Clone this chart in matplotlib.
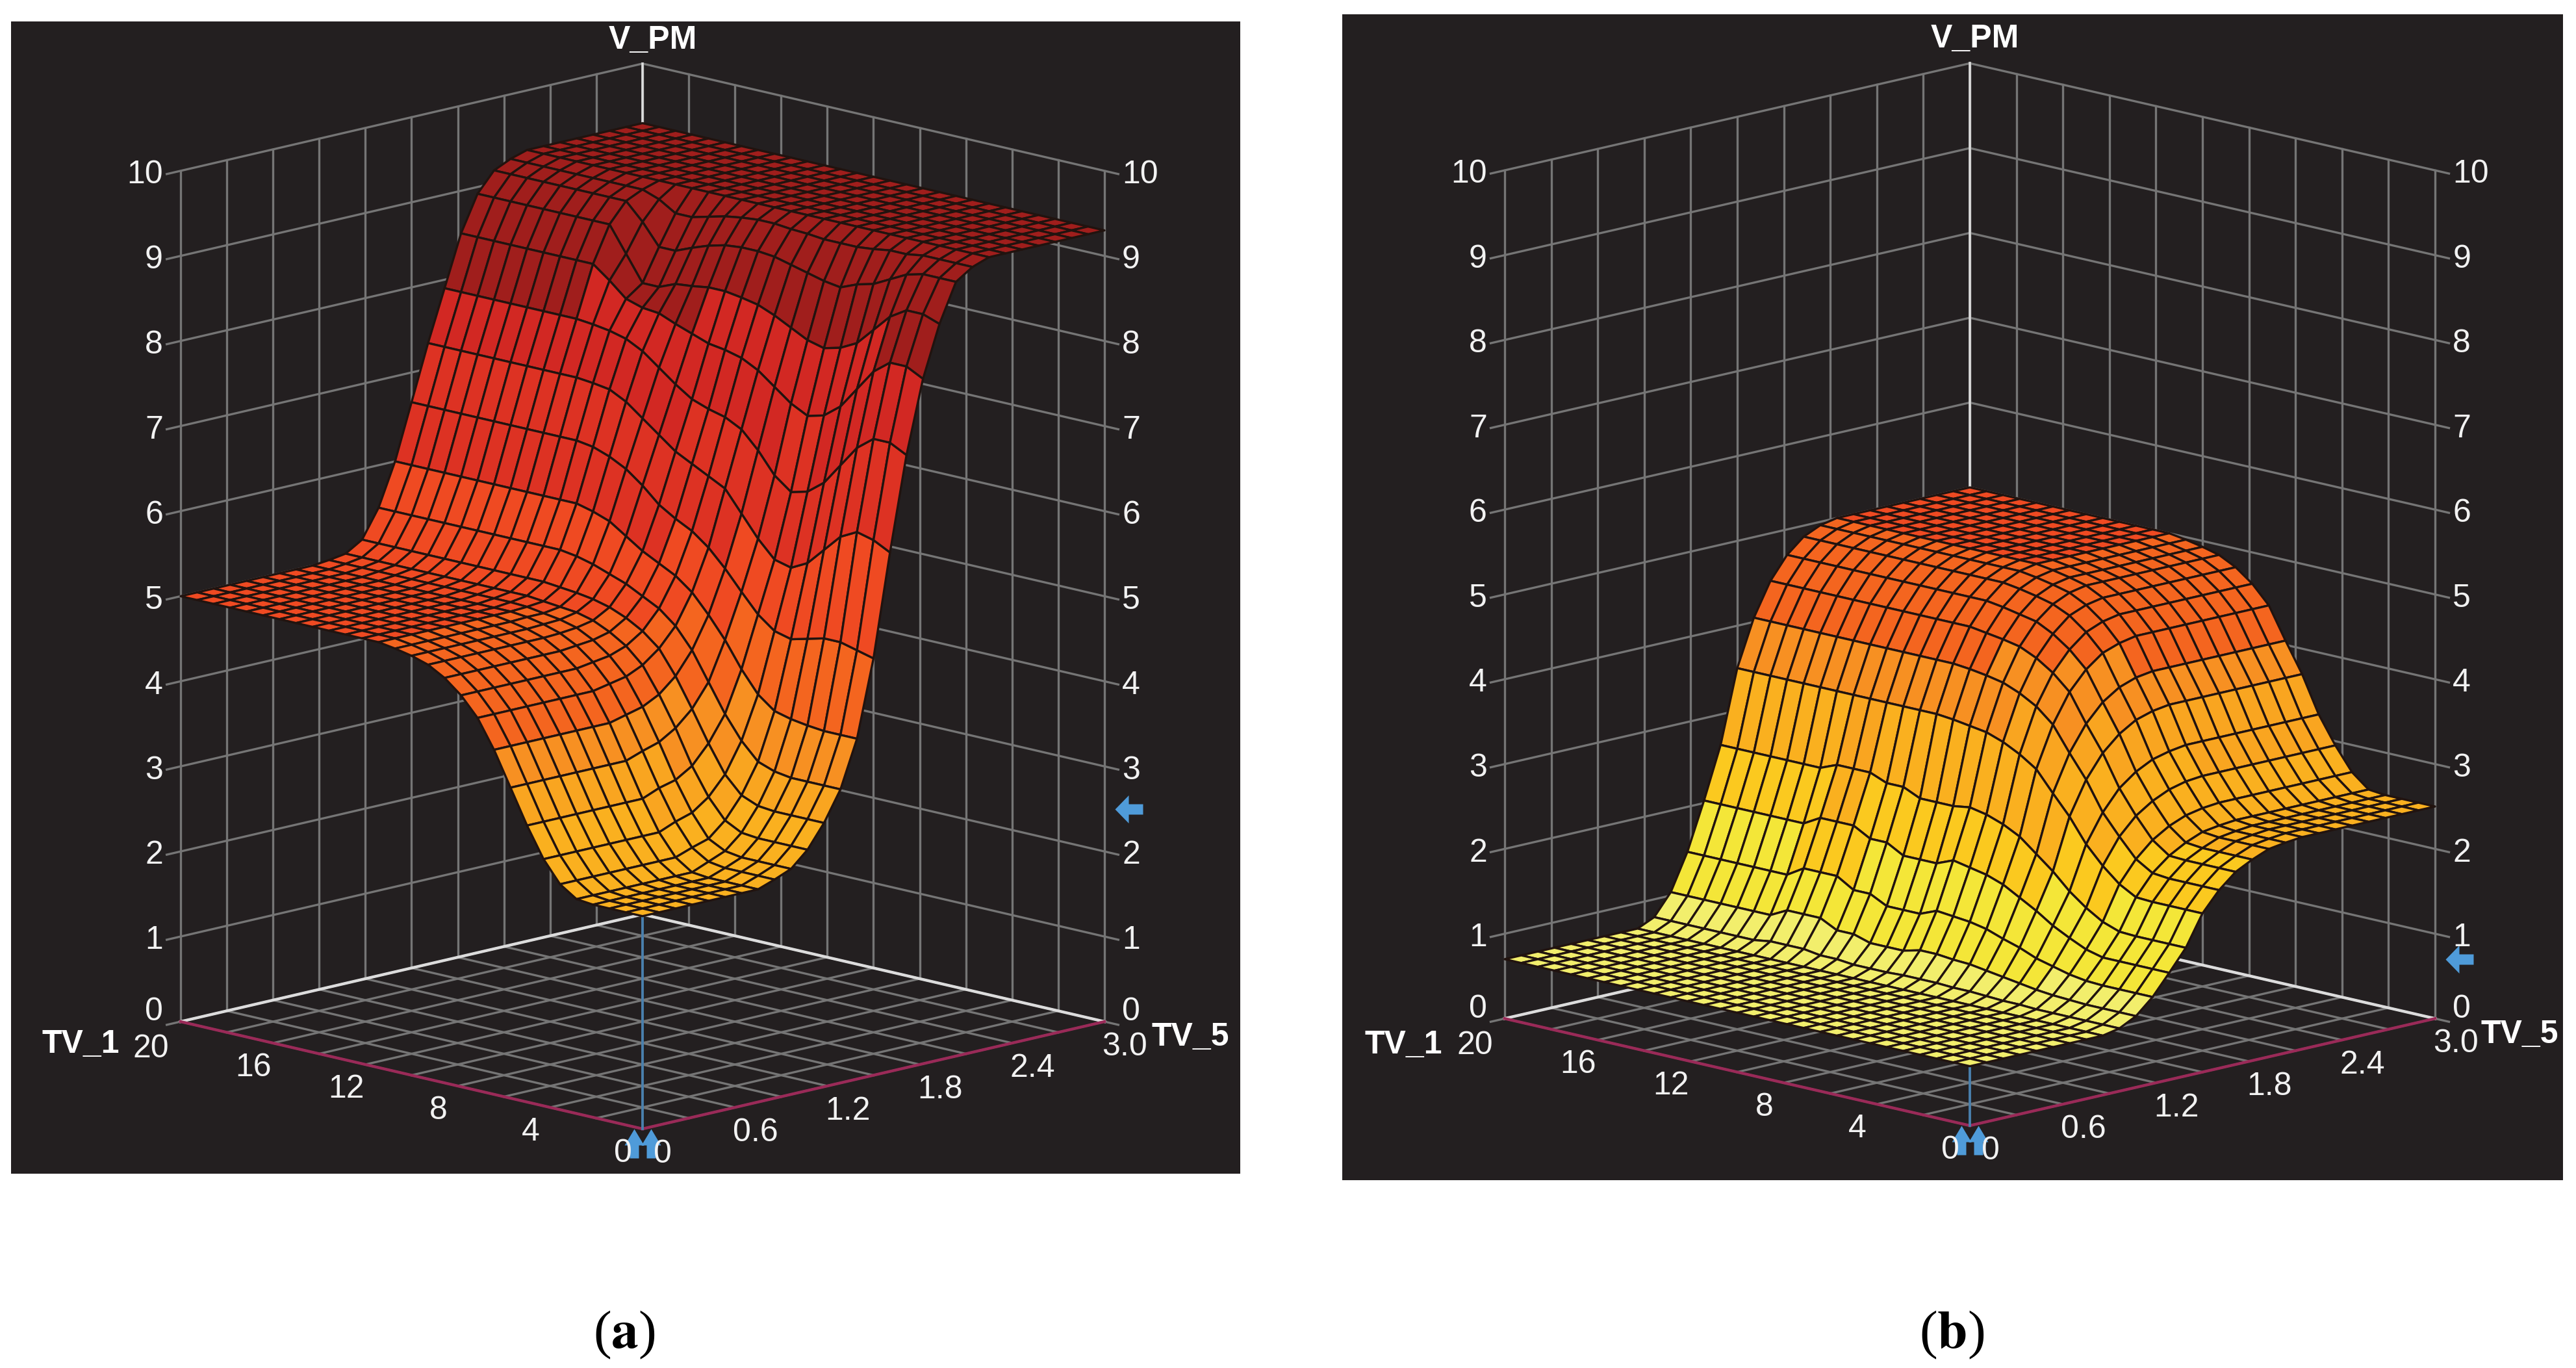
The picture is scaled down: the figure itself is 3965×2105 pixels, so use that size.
import numpy as np
import matplotlib
matplotlib.use("Agg")
import matplotlib.pyplot as plt
from matplotlib.colors import ListedColormap, BoundaryNorm
from matplotlib.path import Path
from mpl_toolkits.mplot3d import proj3d

plt.rcParams['font.family'] = ['Liberation Sans', 'DejaVu Sans']

# ---------- data ----------
tv1_nodes = np.arange(29) * 20 / 28     # rows
tv5_nodes = np.arange(29) * 3 / 28      # columns
tv1_ticks = [0, 4, 8, 12, 16, 20]
tv5_ticks = [0, 0.6, 1.2, 1.8, 2.4, 3.0]
tv5_labels = ['0', '0.6', '1.2', '1.8', '2.4', '3.0']
z_ticks = list(range(11))
tv1_grid = list(range(0, 21, 2))
tv5_grid = [0, .3, .6, .9, 1.2, 1.5, 1.8, 2.1, 2.4, 2.7, 3.0]

top_a = [9.3] * 8
wall_a = [5.0,5.02,5.05,5.17,5.5,6.0,6.65,7.3,7.9,8.5,8.92,9.15,9.24]
V_PM_a = [
 [2.5]*8 + [2.57,2.65,2.83,3.1,3.45,4.0,4.9,6.1,7.2,8.05,8.65,9.1,9.23] + top_a,
 [2.5]*8 + [2.57,2.65,2.83,3.1,3.45,4.0,4.95,6.2,7.3,8.15,8.72,9.1,9.23] + top_a,
 [2.5]*8 + [2.57,2.65,2.83,3.1,3.45,4.0,5.0,6.25,7.3,8.15,8.72,9.1,9.23] + top_a,
 [2.5]*8 + [2.57,2.65,2.83,3.1,3.45,4.02,5.0,6.15,7.15,8.0,8.6,9.05,9.23] + top_a,
 [2.52]*8 + [2.6,2.68,2.85,3.12,3.48,4.05,4.95,5.95,6.9,7.75,8.4,8.95,9.2] + top_a,
 [2.65]*8 + [2.72,2.78,2.95,3.2,3.55,4.1,4.9,5.75,6.65,7.5,8.2,8.85,9.2] + top_a,
 [2.9]*8 + [2.98,3.04,3.18,3.4,3.75,4.25,4.95,5.65,6.5,7.35,8.1,8.8,9.17] + top_a,
 [3.25]*8 + [3.33,3.38,3.5,3.72,4.02,4.5,5.1,5.7,6.45,7.3,8.05,8.72,9.15] + top_a,
 [3.65]*8 + [3.72,3.78,3.9,4.08,4.35,4.8,5.32,5.9,6.6,7.4,8.1,8.75,9.15] + top_a,
 [4.05]*8 + [4.1,4.15,4.25,4.42,4.68,5.05,5.55,6.15,6.85,7.55,8.2,8.8,9.15] + top_a,
 [4.38]*8 + [4.42,4.46,4.55,4.7,4.92,5.27,5.75,6.4,7.05,7.7,8.3,8.85,9.17] + top_a,
 [4.6]*8 + [4.63,4.66,4.73,4.86,5.08,5.42,5.9,6.5,7.15,7.8,8.38,8.9,9.18] + top_a,
 [4.76]*8 + [4.78,4.8,4.85,4.97,5.18,5.52,6.0,6.6,7.2,7.85,8.42,8.92,9.2] + top_a,
 [4.87]*8 + [4.88,4.9,4.94,5.05,5.28,5.62,6.12,6.7,7.27,7.88,8.45,8.92,9.2] + top_a,
 [4.93]*8 + [4.94,4.95,4.99,5.1,5.35,5.75,6.3,6.85,7.4,7.95,8.45,8.9,9.18] + top_a,
 [4.97]*8 + [4.98,4.98,5.01,5.13,5.42,5.88,6.45,7.0,7.55,8.02,8.42,8.85,9.15] + top_a,
 [5.0]*8 + [5.0,5.01,5.03,5.15,5.47,5.95,6.55,7.15,7.7,8.1,8.4,8.78,9.1] + top_a,
 [5.0]*8 + [5.0,5.02,5.05,5.17,5.5,6.0,6.62,7.25,7.8,8.12,8.32,8.7,9.05] + top_a,
 [5.0]*8 + [5.0,5.02,5.05,5.17,5.5,6.0,6.65,7.28,7.85,8.18,8.32,8.7,9.05] + top_a,
 [5.0]*8 + [5.0,5.02,5.05,5.17,5.5,6.0,6.65,7.3,7.88,8.35,8.62,8.95,9.17] + top_a,
] + [[5.0]*8 + wall_a + top_a] * 9

low_b = [0.7] * 8
V_PM_b = [
 low_b + [.7,.74,.84,1.02,1.26,1.51,1.87,2.10,2.27,2.37,2.45,2.48,2.5] + [2.5]*8,
 low_b + [.7,.74,.84,1.02,1.26,1.51,1.87,2.10,2.27,2.37,2.45,2.48,2.5] + [2.5]*8,
 low_b + [.7,.74,.84,1.02,1.26,1.51,1.87,2.10,2.27,2.37,2.45,2.48,2.5] + [2.5]*8,
 low_b + [.7,.74,.84,1.02,1.26,1.51,1.87,2.10,2.27,2.37,2.45,2.48,2.5] + [2.5]*8,
 low_b + [.7,.74,.85,1.03,1.26,1.52,1.88,2.12,2.28,2.39,2.47,2.5,2.52] + [2.52]*8,
 low_b + [.7,.74,.86,1.06,1.31,1.59,1.99,2.24,2.42,2.54,2.62,2.66,2.68] + [2.68]*8,
 low_b + [.7,.75,.88,1.11,1.40,1.71,2.16,2.46,2.66,2.79,2.88,2.93,2.95] + [2.95]*8,
 low_b + [.7,.75,.91,1.16,1.50,1.86,2.37,2.70,2.94,3.09,3.19,3.24,3.27] + [3.27]*8,
 low_b + [.7,.76,.94,1.24,1.63,2.05,2.65,3.04,3.31,3.49,3.61,3.67,3.7] + [3.7]*8,
 low_b + [.7,.77,.97,1.30,1.74,2.21,2.88,3.31,3.61,3.82,3.95,4.02,4.05] + [4.05]*8,
 low_b + [.7,.77,1.0,1.37,1.85,2.37,3.12,3.6,3.94,4.16,4.31,4.38,4.42] + [4.42]*8,
 low_b + [.7,.78,1.01,1.41,1.92,2.47,3.25,3.77,4.12,4.35,4.51,4.59,4.63] + [4.63]*8,
 low_b + [.7,.78,1.03,1.43,1.96,2.54,3.35,3.88,4.25,4.49,4.66,4.74,4.78] + [4.78]*8,
 low_b + [.7,.78,1.03,1.45,2.0,2.58,3.42,3.96,4.34,4.59,4.75,4.84,4.88] + [4.88]*8,
 low_b + [.7,.77,.98,1.37,1.92,2.55,3.45,4.0,4.38,4.63,4.8,4.89,4.93] + [4.93]*8,
 low_b + [.7,.77,.98,1.37,1.92,2.55,3.48,4.03,4.41,4.67,4.84,4.93,4.97] + [4.97]*8,
 low_b + [.7,.77,.98,1.37,1.92,2.55,3.5,4.05,4.44,4.7,4.87,4.96,5.0] + [5.0]*8,
 low_b + [.7,.79,1.04,1.47,2.03,2.64,3.5,4.05,4.44,4.7,4.87,4.96,5.0] + [5.0]*8,
 low_b + [.7,.79,1.04,1.47,2.03,2.64,3.5,4.05,4.44,4.7,4.87,4.96,5.0] + [5.0]*8,
 low_b + [.7,.82,1.14,1.59,2.14,2.72,3.5,4.05,4.44,4.7,4.87,4.96,5.0] + [5.0]*8,
 low_b + [.7,.82,1.14,1.59,2.14,2.72,3.5,4.05,4.44,4.7,4.87,4.96,5.0] + [5.0]*8,
 low_b + [.7,.82,1.14,1.59,2.14,2.72,3.5,4.05,4.44,4.7,4.87,4.96,5.0] + [5.0]*8,
] + [low_b + [.7,.79,1.04,1.47,2.03,2.64,3.5,4.05,4.44,4.7,4.87,4.96,5.0] + [5.0]*8] * 7

output_a = 2.5
output_b = 0.7

# ---------- styles ----------
DARK = '#231f20'
GRID = '#757575'
WHITE = '#dcdcdc'
CRIMSON = '#9a2a58'
BLUE = '#4f9bd9'
LINEBLUE = '#4a80ad'
TXT = '#f2f2f2'
MESH = '#21130f'
band_edges = [0, 1.0, 1.8, 2.4, 3.1, 3.6, 4.2, 5.0, 5.8, 7.0, 8.2, 11]
band_colors = ['#f2ee6c', '#f4e638', '#fbc91f', '#fab01f', '#f9a520', '#f79022',
               '#f4651f', '#ef4a22', '#dd3223', '#d22823', '#a01e1c']
cmap = ListedColormap(band_colors)
norm = BoundaryNorm(band_edges, cmap.N)

W, H = 3965, 2105
fig = plt.figure(figsize=(W / 100, H / 100), dpi=100, facecolor='white')

over = fig.add_axes([0, 0, 1, 1], zorder=5)
over.set_xlim(0, W); over.set_ylim(H, 0)
over.axis('off')


def poly_path(points):
    return Path(np.array(points + [points[0]], float), closed=True)


left_arrow = poly_path([(16, 0), (37, 21.5), (37, 8), (59, 8), (59, -8), (37, -8), (37, -21.5)])


def up_arrow(dx):
    return poly_path([(dx, 0), (dx + 15, -25), (dx + 7, -25), (dx + 7, -45),
                      (dx - 7, -45), (dx - 7, -25), (dx - 15, -25)])


double_up = Path.make_compound_path(up_arrow(-13), up_arrow(13))


def marker_size(path):
    return 2 * np.abs(path.vertices).max() * 0.72


def to_pixel(ax, x, y, z):
    px, py, _ = proj3d.proj_transform(x, y, z, ax.get_proj())
    return ax.transData.transform((px, py))


def fit(ax, x_left, x_right, front_x, front_y):
    size = 1200.0
    ax.set_position([0.2, 0.2, size / W, size / H])
    ax.apply_aspect()
    a = to_pixel(ax, 0, 20, 0)
    b = to_pixel(ax, 3, 0, 0)
    size *= (x_right - x_left) / (b[0] - a[0])
    ax.set_position([0.2, 0.2, size / W, size / H])
    ax.apply_aspect()
    f = to_pixel(ax, 0, 0, 0)
    ox = 0.2 * W + front_x - f[0]
    oy = 0.2 * H + (H - front_y) - f[1]
    ax.set_position([ox / W, oy / H, size / W, size / H])
    ax.apply_aspect()


def panel(rect_px, corners, elev, z_aspect, Z, output):
    x0, y0, x1, y1 = rect_px
    bg = fig.add_axes([x0 / W, 1 - y1 / H, (x1 - x0) / W, (y1 - y0) / H], facecolor=DARK, zorder=0)
    bg.set_xticks([]); bg.set_yticks([])
    for s in bg.spines.values():
        s.set_visible(False)

    ax = fig.add_axes([0.2, 0.2, 0.3, 0.3], projection='3d', proj_type='ortho',
                      computed_zorder=False, zorder=1)
    ax.patch.set_visible(False)
    ax.set_axis_off()
    ax.view_init(elev=elev, azim=-135)
    ax.set_box_aspect((1, 1, z_aspect))
    ax.set_xlim(0, 3, view_margin=0)
    ax.set_ylim(0, 20, view_margin=0)
    ax.set_zlim(0, 10, view_margin=0)
    fit(ax, *corners)

    def label(x, y, z, s, ha):
        p = to_pixel(ax, x, y, z)
        over.text(p[0], H - p[1], s, ha=ha, va='center', color=TXT, fontsize=36)

    lw = 2.4
    for t in tv5_grid:
        ax.plot([t, t], [20, 20], [0, 10], color=GRID, lw=lw, zorder=1)
        ax.plot([t, t], [0, 20], [0, 0], color=GRID, lw=lw, zorder=1)
    for t in tv1_grid:
        ax.plot([3, 3], [t, t], [0, 10], color=GRID, lw=lw, zorder=1)
        ax.plot([0, 3], [t, t], [0, 0], color=GRID, lw=lw, zorder=1)
    for z in z_ticks:
        ax.plot([-0.09, 3], [20, 20], [z, z], color=GRID, lw=lw, zorder=1)
        ax.plot([3, 3], [-0.6, 20], [z, z], color=GRID, lw=lw, zorder=1)
        lift = 0.16 if z == 0 else 0
        label(-0.114, 20, z + lift, str(z), 'right')
        label(3, -0.76, z + lift, str(z), 'left')
    ax.plot([3, 3], [20, 20], [0, 10], color=WHITE, lw=2.6, zorder=2)
    ax.plot([0, 3], [20, 20], [0, 0], color=WHITE, lw=3.2, zorder=2)
    ax.plot([3, 3], [0, 20], [0, 0], color=WHITE, lw=3.2, zorder=2)
    ax.plot([0, 3], [0, 0], [0, 0], color=CRIMSON, lw=3.2, zorder=2)
    ax.plot([0, 0], [0, 20], [0, 0], color=CRIMSON, lw=3.2, zorder=2)
    ax.plot([0, 0], [0, 0], [0, output], color=LINEBLUE, lw=2.8, zorder=3)

    X, Y = np.meshgrid(tv5_nodes, tv1_nodes)
    ax.plot_surface(X, Y, np.array(Z, float), rstride=1, cstride=1, cmap=cmap, norm=norm,
                    edgecolor=MESH, linewidth=2.4, shade=False, antialiased=True, zorder=4)

    for t in tv1_ticks:
        label(-0.126 - (0.0675 if t == 20 else 0), t, -0.24, str(t), 'center')
    for t, s in zip(tv5_ticks, tv5_labels):
        label(t, -0.88, -0.24, s, 'center')

    ax.plot([3], [0], [output], marker=left_arrow, ms=marker_size(left_arrow), mfc=BLUE, mew=0, ls='none', zorder=7)
    ax.plot([0], [0], [0], marker=double_up, ms=marker_size(double_up), mfc=BLUE, mew=0, ls='none', zorder=7)
    return ax


panel((17, 33, 1909, 1806), (276, 1698, 989, 1737), 13.42, 1.3385, V_PM_a, output_a)
panel((2066, 22, 3945, 1816), (2314, 3746, 3032, 1732), 13.3, 1.3245, V_PM_b, output_b)

bold = dict(color='white', fontsize=36, fontweight='bold', ha='center', va='center')
for x, y, s in [(1005, 62, 'V_PM'), (124, 1607, 'TV_1'), (1832, 1596, 'TV_5'),
                (3040, 60, 'V_PM'), (2160, 1608, 'TV_1'), (3878, 1592, 'TV_5')]:
    over.text(x, y, s, **bold)
serif = dict(family='Liberation Serif', fontsize=60, color='black', ha='center', va='center')
over.text(961, 2054, r'($\mathbf{a}$)', math_fontfamily='stix', **serif)
over.text(3004, 2054, r'($\mathbf{b}$)', math_fontfamily='stix', **serif)

fig.savefig('out.png', dpi=100)
